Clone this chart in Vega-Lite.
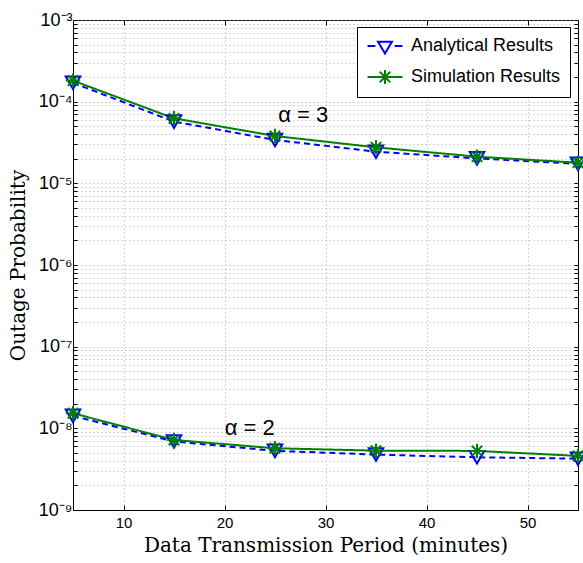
{
  "$schema": "https://vega.github.io/schema/vega-lite/v6.json",
  "width": 505,
  "height": 490,
  "autosize": {"type": "none"},
  "padding": {"left": 73, "top": 20, "right": 5, "bottom": 53},
  "background": "white",
  "config": {
    "view": {"stroke": "black", "strokeWidth": 1},
    "axis": {"domainColor": "black", "tickColor": "black", "labelColor": "black", "titleColor": "black", "labelFont": "Liberation Sans", "labelFontSize": 15, "titleFont": "DejaVu Serif", "titleFontSize": 20, "titleFontWeight": "normal", "gridColor": "#a8a8a8", "gridDash": [1, 3], "gridWidth": 1, "gridOpacity": 1},
    "legend": {"title": null, "orient": "none", "legendX": 284, "legendY": 7, "fillColor": "white", "strokeColor": "black", "padding": 9, "labelFont": "Liberation Sans", "labelFontSize": 18, "labelColor": "black", "symbolSize": 306, "symbolOffset": 9, "labelOffset": 16, "rowPadding": 8, "symbolStrokeWidth": 2}
  },
  "data": {"values": [
    {"x": 5, "p": 1.70e-4, "alpha": 3, "series": "Analytical Results"},
    {"x": 15, "p": 5.7e-5, "alpha": 3, "series": "Analytical Results"},
    {"x": 25, "p": 3.4e-5, "alpha": 3, "series": "Analytical Results"},
    {"x": 35, "p": 2.44e-5, "alpha": 3, "series": "Analytical Results"},
    {"x": 45, "p": 2.02e-5, "alpha": 3, "series": "Analytical Results"},
    {"x": 55, "p": 1.73e-5, "alpha": 3, "series": "Analytical Results"},
    {"x": 5, "p": 1.81e-4, "alpha": 3, "series": "Simulation Results"},
    {"x": 15, "p": 6.25e-5, "alpha": 3, "series": "Simulation Results"},
    {"x": 25, "p": 3.8e-5, "alpha": 3, "series": "Simulation Results"},
    {"x": 35, "p": 2.76e-5, "alpha": 3, "series": "Simulation Results"},
    {"x": 45, "p": 2.12e-5, "alpha": 3, "series": "Simulation Results"},
    {"x": 55, "p": 1.79e-5, "alpha": 3, "series": "Simulation Results"},
    {"x": 5, "p": 1.42e-8, "alpha": 2, "series": "Analytical Results"},
    {"x": 15, "p": 6.9e-9, "alpha": 2, "series": "Analytical Results"},
    {"x": 25, "p": 5.3e-9, "alpha": 2, "series": "Analytical Results"},
    {"x": 35, "p": 4.77e-9, "alpha": 2, "series": "Analytical Results"},
    {"x": 45, "p": 4.42e-9, "alpha": 2, "series": "Analytical Results"},
    {"x": 55, "p": 4.25e-9, "alpha": 2, "series": "Analytical Results"},
    {"x": 5, "p": 1.53e-8, "alpha": 2, "series": "Simulation Results"},
    {"x": 15, "p": 7.2e-9, "alpha": 2, "series": "Simulation Results"},
    {"x": 25, "p": 5.7e-9, "alpha": 2, "series": "Simulation Results"},
    {"x": 35, "p": 5.33e-9, "alpha": 2, "series": "Simulation Results"},
    {"x": 45, "p": 5.29e-9, "alpha": 2, "series": "Simulation Results"},
    {"x": 55, "p": 4.6e-9, "alpha": 2, "series": "Simulation Results"}
  ]},
  "resolve": {"axis": {"x": "independent", "y": "independent"}},
  "layer": [
    {
      "mark": {"type": "line", "strokeWidth": 2, "clip": false},
      "encoding": {
        "x": {"field": "x", "type": "quantitative", "scale": {"domain": [5, 55], "nice": false, "zero": false},
          "axis": {"title": "Data Transmission Period (minutes)", "values": [10, 20, 30, 40, 50], "tickSize": -5, "labelPadding": 10, "titlePadding": 5, "grid": true}},
        "y": {"field": "p", "type": "quantitative", "scale": {"type": "log", "domain": [1e-9, 1e-3], "nice": false},
          "axis": {"title": "Outage Probability", "values": [1e-9,2e-9,3e-9,4e-9,5e-9,6e-9,7e-9,8e-9,9e-9,1e-8,2e-8,3e-8,4e-8,5e-8,6e-8,7e-8,8e-8,9e-8,1e-7,2e-7,3e-7,4e-7,5e-7,6e-7,7e-7,8e-7,9e-7,1e-6,2e-6,3e-6,4e-6,5e-6,6e-6,7e-6,8e-6,9e-6,1e-5,2e-5,3e-5,4e-5,5e-5,6e-5,7e-5,8e-5,9e-5,1e-4,2e-4,3e-4,4e-4,5e-4,6e-4,7e-4,8e-4,9e-4,1e-3],
            "labelExpr": "abs(log(datum.value)/LN10 - round(log(datum.value)/LN10)) < 0.001 ? '10⁻' + ['⁰','¹','²','³','⁴','⁵','⁶','⁷','⁸','⁹'][-round(log(datum.value)/LN10)] : ''",
            "tickSize": -4, "labelPadding": 5, "titlePadding": 10, "grid": true, "labelFontSize": 18}},
        "color": {"field": "series", "type": "nominal", "scale": {"domain": ["Analytical Results", "Simulation Results"], "range": ["#0000ff", "#008000"]},
          "legend": {
            "encoding": {"symbols": {
              "shape": {"value": {"expr": "datum.value === 'Analytical Results' ? 'M-2,0L-1.1,0M1.1,0L2,0M-0.8,-0.5L0.8,-0.5L0,0.85Z' : 'M-2,0L2,0M-0.8,0L0.8,0M0,-0.8L0,0.8M-0.6,-0.6L0.6,0.6M-0.6,0.6L0.6,-0.6'"}},
              "strokeDash": {"value": [1, 0]},
              "fill": {"value": "transparent"},
              "strokeWidth": {"value": 2}
            }}}},
        "strokeDash": {"field": "series", "type": "nominal", "scale": {"domain": ["Simulation Results", "Analytical Results"], "range": [[1, 0], [6, 4]]}, "legend": null},
        "detail": {"field": "alpha", "type": "nominal"}
      }
    },
    {
      "mark": {"type": "point", "filled": false, "strokeWidth": 2, "size": 210, "opacity": 1, "clip": false},
      "encoding": {
        "x": {"field": "x", "type": "quantitative", "scale": {"domain": [5, 55], "nice": false, "zero": false},
          "axis": {"orient": "top", "title": null, "labels": false, "values": [10, 20, 30, 40, 50], "tickSize": -5, "grid": false, "domain": false}},
        "y": {"field": "p", "type": "quantitative", "scale": {"type": "log", "domain": [1e-9, 1e-3], "nice": false},
          "axis": {"orient": "right", "title": null, "labels": false, "values": [1e-9,2e-9,3e-9,4e-9,5e-9,6e-9,7e-9,8e-9,9e-9,1e-8,2e-8,3e-8,4e-8,5e-8,6e-8,7e-8,8e-8,9e-8,1e-7,2e-7,3e-7,4e-7,5e-7,6e-7,7e-7,8e-7,9e-7,1e-6,2e-6,3e-6,4e-6,5e-6,6e-6,7e-6,8e-6,9e-6,1e-5,2e-5,3e-5,4e-5,5e-5,6e-5,7e-5,8e-5,9e-5,1e-4,2e-4,3e-4,4e-4,5e-4,6e-4,7e-4,8e-4,9e-4,1e-3], "tickSize": -4, "grid": false, "domain": false}},
        "color": {"field": "series", "type": "nominal",
          "legend": {
            "encoding": {"symbols": {
              "shape": {"value": {"expr": "datum.value === 'Analytical Results' ? 'M-2,0L-1.1,0M1.1,0L2,0M-0.8,-0.5L0.8,-0.5L0,0.85Z' : 'M-2,0L2,0M-0.8,0L0.8,0M0,-0.8L0,0.8M-0.6,-0.6L0.6,0.6M-0.6,0.6L0.6,-0.6'"}},
              "strokeDash": {"value": [1, 0]},
              "fill": {"value": "transparent"},
              "strokeWidth": {"value": 2}
            }}}},
        "shape": {"field": "series", "type": "nominal", "scale": {"domain": ["Simulation Results", "Analytical Results"], "range": ["M-1,0L1,0M0,-1L0,1M-0.72,-0.72L0.72,0.72M-0.72,0.72L0.72,-0.72", "triangle-down"]}, "legend": null}
      }
    },
    {
      "data": {"values": [{"label": "α = 3"}]},
      "mark": {"type": "text", "font": "Liberation Sans", "fontSize": 22, "fontWeight": "normal", "color": "black", "align": "center", "baseline": "middle"},
      "encoding": {
        "x": {"datum": 27.8, "type": "quantitative", "axis": null},
        "y": {"datum": 6.9e-5, "type": "quantitative", "axis": null},
        "text": {"field": "label"}
      }
    },
    {
      "data": {"values": [{"label": "α = 2"}]},
      "mark": {"type": "text", "font": "Liberation Sans", "fontSize": 22, "fontWeight": "normal", "color": "black", "align": "center", "baseline": "middle"},
      "encoding": {
        "x": {"datum": 22.5, "type": "quantitative", "axis": null},
        "y": {"datum": 1.0e-8, "type": "quantitative", "axis": null},
        "text": {"field": "label"}
      }
    }
  ]
}
